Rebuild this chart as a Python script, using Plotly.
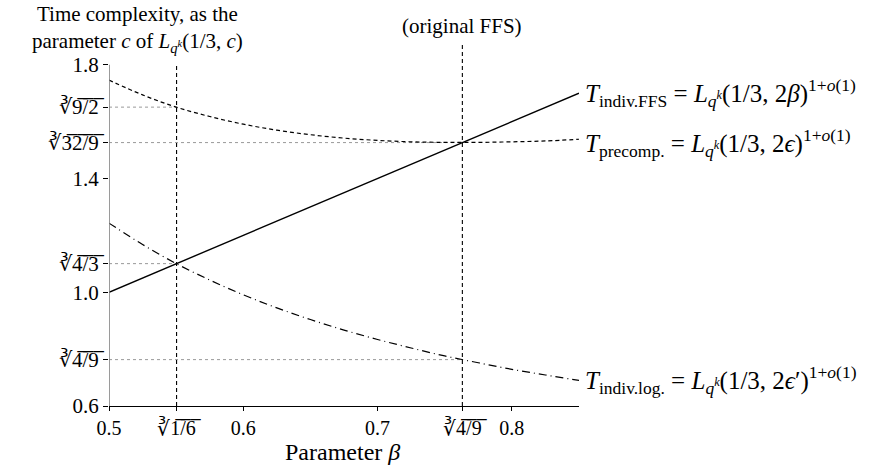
import numpy as np
import plotly.graph_objects as go

# ---- data ----
beta = [0.50, 0.525, 0.55, 0.575, 0.60, 0.625, 0.65, 0.675, 0.70,
        0.725, 0.75, 0.775, 0.80, 0.825, 0.85]
t_precomp = [1.746, 1.694, 1.651, 1.618, 1.591, 1.570, 1.554, 1.542, 1.534,
             1.529, 1.527, 1.527, 1.529, 1.532, 1.538]
t_log = [1.243, 1.168, 1.101, 1.043, 0.991, 0.945, 0.904, 0.867, 0.834,
         0.804, 0.776, 0.752, 0.729, 0.709, 0.690]
ffs_beta = [0.50, 0.85]
t_ffs = [1.00, 1.70]

beta_a = np.cbrt(1 / 6)   # left marker
beta_b = np.cbrt(4 / 9)   # original FFS
c_92 = np.cbrt(9 / 2)
c_329 = np.cbrt(32 / 9)
c_43 = np.cbrt(4 / 3)
c_49 = np.cbrt(4 / 9)

x_tickvals = [0.5, beta_a, 0.6, 0.7, beta_b, 0.8]
x_ticktext = ["0.5", "∛1̅/̅6̅", "0.6", "0.7", "∛4̅/̅9̅", "0.8"]
y_tickvals = [0.6, c_49, 1.0, c_43, 1.4, c_329, c_92, 1.8]
y_ticktext = ["0.6", "∛4̅/̅9̅", "1.0", "∛4̅/̅3̅", "1.4", "∛3̅2̅/̅9̅", "∛9̅/̅2̅", "1.8"]

FONT = "Liberation Serif"
fig = go.Figure()

# dotted guide lines
for yv, xv in [(c_92, beta_a), (c_329, beta_b), (c_43, beta_a), (c_49, beta_b)]:
    fig.add_trace(go.Scatter(x=[0.5, xv], y=[yv, yv], mode="lines",
                             line=dict(color="#999999", width=1, dash="dot"),
                             showlegend=False, hoverinfo="skip"))

# vertical dashed markers
fig.add_trace(go.Scatter(x=[beta_a, beta_a], y=[0.6, 1.8], mode="lines",
                         line=dict(color="black", width=1.1, dash="4px,3px"),
                         showlegend=False, hoverinfo="skip"))
fig.add_trace(go.Scatter(x=[beta_b, beta_b], y=[0.6, 1.875], mode="lines",
                         line=dict(color="black", width=1.1, dash="4px,3px"),
                         showlegend=False, hoverinfo="skip"))

# curves
fig.add_trace(go.Scatter(x=beta, y=t_precomp, mode="lines", line_shape="spline",
                         line=dict(color="black", width=1.2, dash="4px,3px"),
                         showlegend=False))
fig.add_trace(go.Scatter(x=beta, y=t_log, mode="lines", line_shape="spline",
                         line=dict(color="black", width=1.2, dash="8px,4px,1px,4px"),
                         showlegend=False))
fig.add_trace(go.Scatter(x=ffs_beta, y=t_ffs, mode="lines",
                         line=dict(color="black", width=1.4),
                         showlegend=False))

# y axis line (only up to 1.8)
fig.add_shape(type="line", xref="x", yref="y", x0=0.5, x1=0.5, y0=0.6, y1=1.8,
              line=dict(color="#808080", width=1.6))

LBL = 25
ann = [
    dict(x=0.0596, y=1.1154, xref="paper", yref="paper",
         text="Time complexity, as the<br>parameter <i>c</i> of <i>L</i><sub><i>q</i><sup><i>k</i></sup></sub>(1/3, <i>c</i>)",
         showarrow=False, font=dict(family=FONT, size=21, color="black"),
         xanchor="center", yanchor="top"),
    dict(x=beta_b, y=1.044, xref="x", yref="paper", text="(original FFS)",
         showarrow=False, font=dict(family=FONT, size=21, color="black"),
         xanchor="center", yanchor="middle"),
    dict(x=0.85, y=t_ffs[-1], xref="x", yref="y", xshift=4,
         text="<i>T</i><sub>indiv.FFS</sub> = <i>L</i><sub><i>q</i><sup><i>k</i></sup></sub>(1/3, 2<i>β</i>)<sup>1+<i>o</i>(1)</sup>",
         showarrow=False, font=dict(family=FONT, size=LBL, color="black"),
         xanchor="left", yanchor="middle"),
    dict(x=0.85, y=c_329, xref="x", yref="y", xshift=4,
         text="<i>T</i><sub>precomp.</sub> = <i>L</i><sub><i>q</i><sup><i>k</i></sup></sub>(1/3, 2<i>ϵ</i>)<sup>1+<i>o</i>(1)</sup>",
         showarrow=False, font=dict(family=FONT, size=LBL, color="black"),
         xanchor="left", yanchor="middle"),
    dict(x=0.85, y=t_log[-1], xref="x", yref="y", xshift=4,
         text="<i>T</i><sub>indiv.log.</sub> = <i>L</i><sub><i>q</i><sup><i>k</i></sup></sub>(1/3, 2<i>ϵ</i>′)<sup>1+<i>o</i>(1)</sup>",
         showarrow=False, font=dict(family=FONT, size=LBL, color="black"),
         xanchor="left", yanchor="middle"),
    dict(x=0.674, y=-0.125, xref="x", yref="paper", text="Parameter <i>β</i>",
         showarrow=False, font=dict(family=FONT, size=24, color="black"),
         xanchor="center", yanchor="middle"),
]

fig.update_layout(
    width=883, height=474,
    margin=dict(l=109, r=304, t=42, b=68),
    paper_bgcolor="white", plot_bgcolor="white",
    font=dict(family=FONT, size=20, color="black"),
    annotations=ann,
    showlegend=False,
)
fig.update_xaxes(range=[0.5, 0.85], tickvals=x_tickvals, ticktext=x_ticktext,
                 showgrid=False, zeroline=False, showline=True, linecolor="black",
                 linewidth=1.2, ticks="outside", ticklen=4, tickcolor="black",
                 tickfont=dict(family=FONT, size=20))
fig.update_yaxes(range=[0.6, 1.88], tickvals=y_tickvals, ticktext=y_ticktext,
                 showgrid=False, zeroline=False, showline=False,
                 ticks="outside", ticklen=5, tickcolor="black",
                 tickfont=dict(family=FONT, size=21))

fig.write_html("out.html", config={"displayModeBar": False},
               post_script="document.body.style.margin='0px';")
